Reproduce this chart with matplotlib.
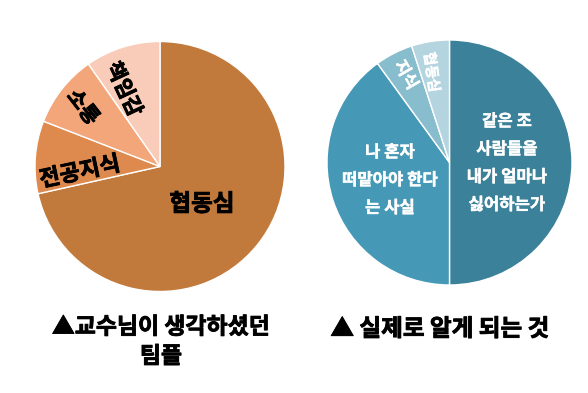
import matplotlib
matplotlib.use("Agg")
import matplotlib.pyplot as plt
import matplotlib.patheffects as pe

plt.rcParams["font.family"] = ["Noto Sans CJK KR", "DejaVu Sans"]

W, H = 588, 393

# left pie: what the professor imagined
left_labels = ["협동심", "전공지식", "소통", "책임감"]
left_values = [71.5, 9.4, 9.4, 9.7]
left_colors = ["#C27A3C", "#DE8A4E", "#F2A679", "#F8CCB8"]

# right pie: what you actually learn
right_labels = ["같은 조\n사람들을\n내가 얼마나\n싫어하는가", "나 혼자\n떠맡아야 한다\n는 사실", "지식", "협동심"]
right_values = [50, 40, 5, 5]
right_colors = ["#3B8199", "#4699B6", "#88BDCE", "#B4D4DF"]

left_caption = "▲교수님이 생각하셨던\n팀플"
right_caption = "▲ 실제로 알게 되는 것"


def py(y):
    return H - y


def heavy(color, lw):
    return [pe.withStroke(linewidth=lw, foreground=color)]


fig = plt.figure(figsize=(W / 100, H / 100), dpi=100)
ax = fig.add_axes([0, 0, 1, 1])

wedge_kw = dict(edgecolor="white", linewidth=1.0)
ax.pie(left_values, colors=left_colors, startangle=90, counterclock=False,
       center=(160, py(166.5)), radius=125, wedgeprops=wedge_kw, frame=True)
ax.pie(right_values, colors=right_colors, startangle=90, counterclock=False,
       center=(449.5, py(162.5)), radius=122.5, wedgeprops=wedge_kw, frame=True)
ax.set_xlim(0, W)
ax.set_ylim(0, H)
ax.axis("off")

bold = dict(fontweight="black", ha="center", va="center")

# left labels (x, y, rotation, size)
left_pos = [(202, 204, 0, 17), (80, 172, 12, 16), (83, 107, -52, 15), (124, 89, -65, 15)]
for lab, (x, y, rot, fs) in zip(left_labels, left_pos):
    ax.text(x, py(y), lab, rotation=rot, fontsize=fs, color="black",
            path_effects=heavy("black", 0.6), **bold)

right_pos = [(507, 163, 0, 12), (390, 180, 0, 12), (406, 75, -60, 12), (432, 72, -82, 10.5)]
for lab, (x, y, rot, fs) in zip(right_labels, right_pos):
    ax.text(x, py(y), lab, rotation=rot, fontsize=fs, color="white",
            linespacing=1.7, path_effects=heavy("white", 0.3), **bold)

ax.text(161, py(342), left_caption, fontsize=16.5, color="black",
        linespacing=1.35, path_effects=heavy("black", 0.6), **bold)
ax.text(440, py(329), right_caption, fontsize=17, color="black",
        path_effects=heavy("black", 0.6), **bold)

fig.savefig("out.png", dpi=100)
